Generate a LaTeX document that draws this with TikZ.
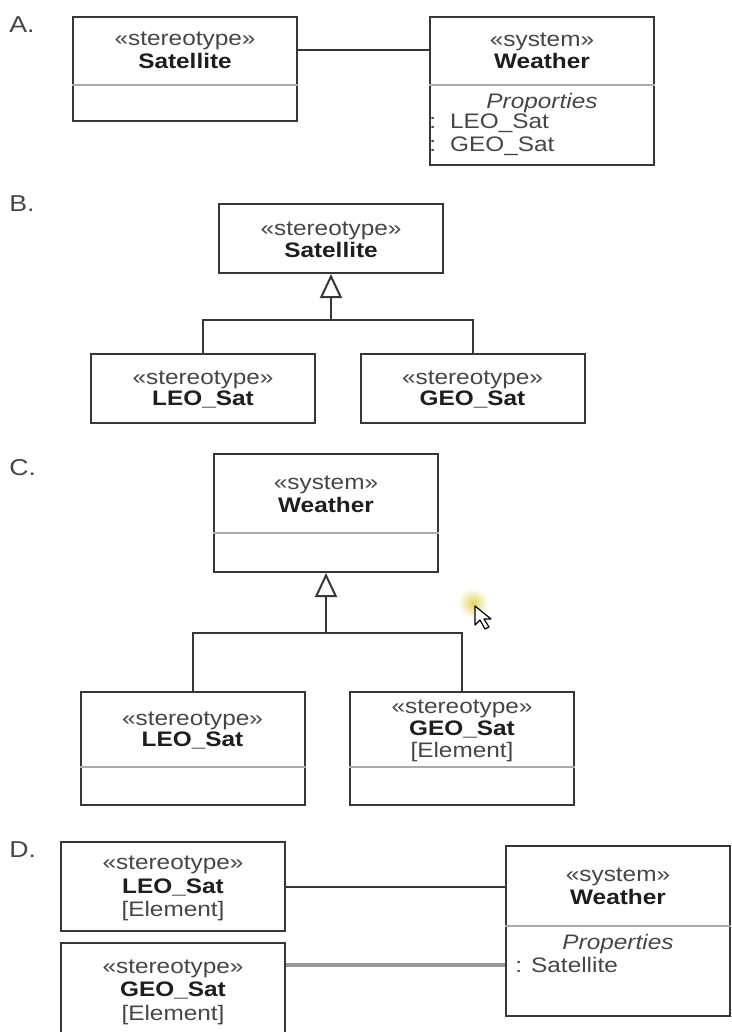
\documentclass[tikz,border=0pt]{standalone}
\usepackage{fontspec}
\setmainfont{Liberation Sans}[FakeStretch=1.16]
\usepackage{xcolor}
\definecolor{ColLine}{RGB}{55,55,55}
\definecolor{ColDiv}{RGB}{170,170,170}
\definecolor{ColGrayLine}{RGB}{150,150,150}
\definecolor{ColStereo}{RGB}{70,70,70}
\definecolor{ColName}{RGB}{30,30,30}
\definecolor{ColGlow}{RGB}{222,212,95}
\usepackage{tikz}
\usetikzlibrary{arrows.meta}
\tikzstyle{Box}=[draw=ColLine,line width=1pt,inner sep=0pt,minimum width=112pt]
\tikzstyle{Div}=[draw=ColDiv,line width=.8pt]
\tikzstyle{Assoc}=[draw=ColLine,line width=1pt]
\tikzstyle{AssocGray}=[draw=ColGrayLine,line width=1.8pt]
\tikzstyle{Gen}=[draw=ColLine,line width=1pt]
\tikzstyle{GenTip}=[Gen,-{Triangle[open,length=12pt,width=11pt]}]
\tikzstyle{Stereo}=[anchor=base,inner sep=0pt,text=ColStereo,
font=\fontsize{10.5}{12}\selectfont]
\tikzstyle{Name}=[Stereo,text=ColName,font=\fontsize{10.5}{12}\selectfont\bfseries]
\tikzstyle{Prop}=[Stereo,font=\fontsize{10.5}{12}\selectfont\itshape]
\tikzstyle{Attr}=[Stereo,anchor=base west]
\tikzstyle{Letter}=[anchor=base west,inner sep=0pt,text=ColStereo,
font=\fontsize{11.5}{13}\selectfont]

\begin{document}
\begin{tikzpicture}[x=.5pt,y=-.5pt]
        \useasboundingbox(0,0)rectangle(732,1032);
        \fill[white](0,0)rectangle(732,1032);
        \clip(0,0)rectangle(732,1032);
        % A
        \node[Letter](lA)at(9,33){A.};
        \node[Box,minimum height=52pt](satA)at(185,69){};
        \node[Box,minimum height=74pt](weaA)at(542,91){};
        \node[Stereo](satAst)at(185,46){«stereotype»};
        \node[Name](satAnm)at(185,69){Satellite};
        \node[Stereo](weaAst)at(542,47){«system»};
        \node[Name](weaAnm)at(542,69){Weather};
        \node[Prop](weaApr)at(542,108.5){Proporties};
        \node[Attr](weaAa1)at(429,129){:\hspace{7pt}LEO\_Sat};
        \node[Attr](weaAa2)at(429,152){:\hspace{7pt}GEO\_Sat};
        \draw[Div](satA.west|-0,85)--(satA.east|-0,85);
        \draw[Div](weaA.west|-0,85)--(weaA.east|-0,85);
        \draw[Assoc]([yshift=-17pt]satA.north east)--([yshift=-17pt]weaA.north west);
        % B
        \node[Letter](lB)at(9,212){B.};
        \node[Box,minimum height=34.5pt](satB)at(331,238.5){};
        \node[Box,minimum height=34.5pt](leoB)at(203,388.5){};
        \node[Box,minimum height=34.5pt](geoB)at(472.5,388.5){};
        \node[Stereo](satBst)at(331,235){«stereotype»};
        \node[Name](satBnm)at(331,257){Satellite};
        \node[Stereo](leoBst)at(203,384){«stereotype»};
        \node[Name](leoBnm)at(203,405){LEO\_Sat};
        \node[Stereo](geoBst)at(472.5,384){«stereotype»};
        \node[Name](geoBnm)at(472.5,405){GEO\_Sat};
        \coordinate(jB)at(satB.south|-0,320);
        \draw[Gen](leoB.north)|-(jB)-|(geoB.north);
        \draw[GenTip](jB)--(satB.south);
        % C
        \node[Letter](lC)at(9,475){C.};
        \node[Box,minimum height=59pt](weaC)at(326,513){};
        \node[Box,minimum height=56.5pt](leoC)at(192.5,748.5){};
        \node[Box,minimum height=56.5pt](geoC)at(462,748.5){};
        \node[Stereo](weaCst)at(326,489){«system»};
        \node[Name](weaCnm)at(326,512){Weather};
        \node[Stereo](leoCst)at(192.5,725){«stereotype»};
        \node[Name](leoCnm)at(192.5,746){LEO\_Sat};
        \node[Stereo](geoCst)at(462,713){«stereotype»};
        \node[Name](geoCnm)at(462,735){GEO\_Sat};
        \node[Stereo](geoCel)at(462,757){[Element]};
        \draw[Div](weaC.west|-0,533)--(weaC.east|-0,533);
        \draw[Div](leoC.west|-0,767)--(leoC.east|-0,767);
        \draw[Div](geoC.west|-0,767)--(geoC.east|-0,767);
        \coordinate(jC)at(weaC.south|-0,633);
        \draw[Gen](leoC.north)|-(jC)-|(geoC.north);
        \draw[GenTip](jC)--(weaC.south);
        % pointer
        \shade[inner color=ColGlow,outer color=white](473,603)circle(7.5pt);
        \draw[fill=white,line width=.6pt,line join=round](475,606)--(475,625)--(480,620)
            --(485,629)--(489,627)--(484,619)--(491,619)--cycle;
        % D
        \node[Letter](lD)at(9,857){D.};
        \node[Box,minimum height=44.5pt](leoD)at(173,886.5){};
        \node[Box,minimum height=55pt](geoD)at(173,998){};
        \node[Box,minimum height=85pt](weaD)at(618,931){};
        \node[Stereo](leoDst)at(173,869){«stereotype»};
        \node[Name](leoDnm)at(173,893){LEO\_Sat};
        \node[Stereo](leoDel)at(173,916){[Element]};
        \node[Stereo](geoDst)at(173,973){«stereotype»};
        \node[Name](geoDnm)at(173,996){GEO\_Sat};
        \node[Stereo](geoDel)at(173,1020){[Element]};
        \node[Stereo](weaDst)at(618,881){«system»};
        \node[Name](weaDnm)at(618,904){Weather};
        \node[Prop](weaDpr)at(618,949.5){Properties};
        \node[Attr](weaDa1)at(515,972){: Satellite};
        \draw[Div](weaD.west|-0,926)--(weaD.east|-0,926);
        \draw[Assoc](leoD.east)--(leoD.east-|weaD.west);
        \draw[AssocGray]([yshift=-11.5pt]geoD.north east)--([yshift=-11.5pt]geoD.north east-|weaD.west);
    \end{tikzpicture}
\end{document}
